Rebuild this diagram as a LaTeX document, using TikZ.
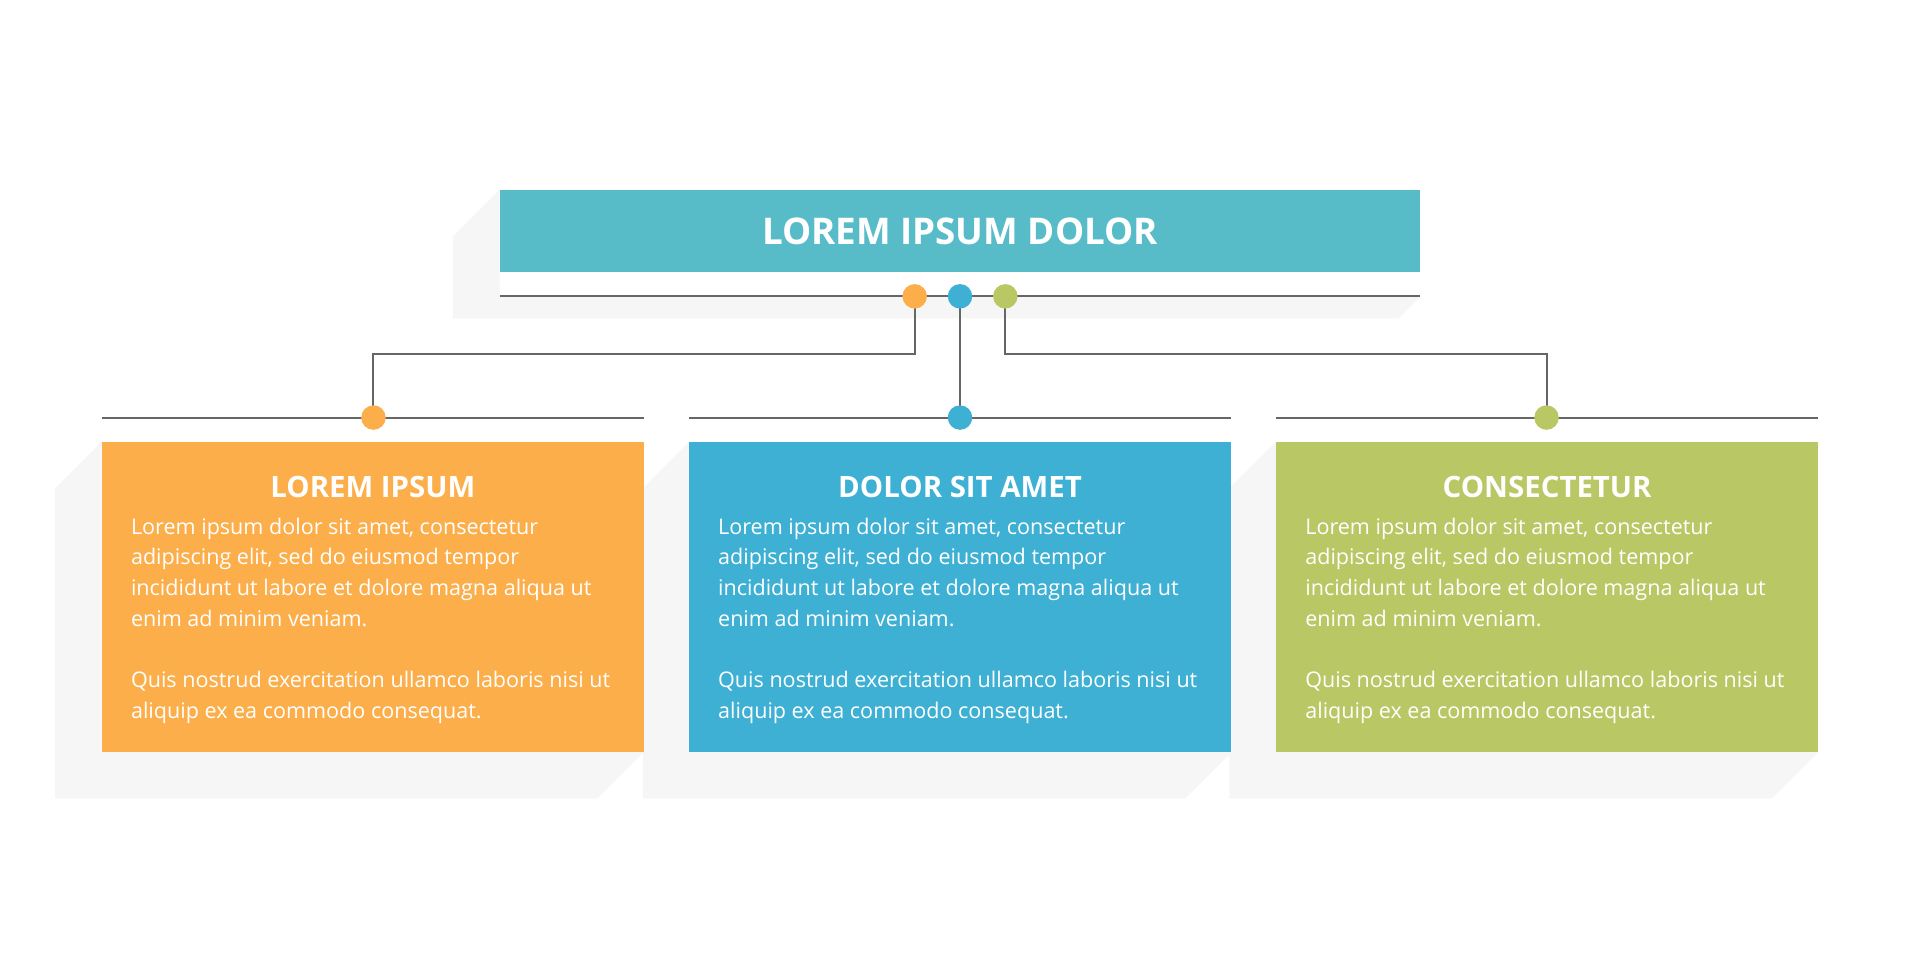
\documentclass[tikz,border=0pt]{standalone}
\usepackage{fontspec}
\setmainfont{Open Sans}
\definecolor{cteal}{HTML}{58BCC8}
\definecolor{corange}{HTML}{FBAE4A}
\definecolor{cblue}{HTML}{3DB0D4}
\definecolor{cgreen}{HTML}{B9C764}
\definecolor{cline}{HTML}{666666}
\tikzset{
  shadowpoly/.style={fill=black!3.5, draw=none},
  box/.style={minimum width=443pt, minimum height=253pt, inner sep=0pt, draw=none},
  hline/.style={draw=cline, line width=1.6pt},
  dot/.style={circle, minimum size=20pt, inner sep=0pt},
  head/.style={text=white, font=\fontsize{24}{28}\selectfont\bfseries},
  body/.style={text=white, font=\fontsize{17.6}{25}\selectfont, align=left, anchor=north west, inner sep=0pt}
}
\newcommand{\bodytext}{Lorem ipsum dolor sit amet, consectetur\\adipiscing elit, sed do eiusmod tempor\\incididunt ut labore et dolore magna aliqua ut\\enim ad minim veniam.\\[25pt]Quis nostrud exercitation ullamco laboris nisi ut\\aliquip ex ea commodo consequat.}
\begin{document}
\begin{tikzpicture}[x=1pt,y=-1pt]
\useasboundingbox[fill=white] (0,0) rectangle (1568,796);
% shadows
\fill[shadowpoly] (408,155) -- (370,193) -- (370,260) -- (1142,260) -- (1160,242) -- (408,242) -- cycle;
\foreach \x in {83,563,1042}{
  \fill[shadowpoly] (\x,361) -- (\x-38,399) -- (\x-38,652) -- (\x+405,652) -- (\x+443,614) -- (\x,614) -- cycle;
}
% title
\node[fill=cteal, minimum width=752pt, minimum height=67pt, inner sep=0pt, head, font=\fontsize{30}{34}\selectfont\bfseries] (title) at (784,189) {LOREM IPSUM DOLOR};
\draw[hline] (408,242) coordinate (tl) -- (1160,242) coordinate (tr);
% boxes
\node[box, fill=corange] (b1) at (304.5,487.5) {};
\node[box, fill=cblue] (b2) at (784,487.5) {};
\node[box, fill=cgreen] (b3) at (1263.5,487.5) {};
\foreach \b/\t in {b1/LOREM IPSUM, b2/DOLOR SIT AMET, b3/CONSECTETUR}{
  \node[head] at ([yshift=-37pt]\b.north) {\t};
  \node[body] at ([xshift=24pt,yshift=-62pt]\b.north west) {\bodytext};
}
% lines above boxes
\draw[hline] (83,341) -- (526,341);
\draw[hline] (563,341) -- (1005,341);
\draw[hline] (1042,341) -- (1485,341);
% connectors
\coordinate (c1) at (747,242);
\coordinate (c2) at (784,242);
\coordinate (c3) at (821,242);
\coordinate (d1) at (305,341);
\coordinate (d2) at (784,341);
\coordinate (d3) at (1263,341);
\draw[hline] (c1) |- (305,289) -- (d1);
\draw[hline] (c2) -- (d2);
\draw[hline] (c3) |- (1263,289) -- (d3);
\node[dot, fill=corange] (p1) at (c1) {};
\node[dot, fill=cblue] (p2) at (c2) {};
\node[dot, fill=cgreen] (p3) at (c3) {};
\node[dot, fill=corange] (q1) at (d1) {};
\node[dot, fill=cblue] (q2) at (d2) {};
\node[dot, fill=cgreen] (q3) at (d3) {};
\end{tikzpicture}
\end{document}
